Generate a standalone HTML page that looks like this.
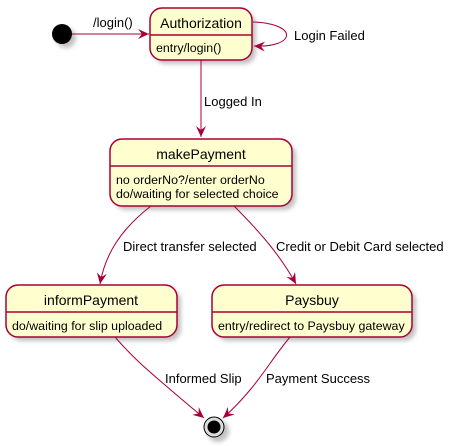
<!DOCTYPE html>
<html><head><meta charset="utf-8"><style>
html,body{margin:0;padding:0;background:#fff;}
svg{display:block;font-family:"Liberation Sans",sans-serif;}
</style></head><body>
<svg width="453" height="446" viewBox="0 0 453 446" xmlns="http://www.w3.org/2000/svg">
<defs>
<filter id="sh" x="-20%" y="-20%" width="150%" height="150%"><feGaussianBlur stdDeviation="2"/></filter>
<marker id="ar" viewBox="0 0 12 10" refX="11" refY="5" markerWidth="12" markerHeight="10" orient="auto" markerUnits="userSpaceOnUse">
<path d="M0,0 L11,5 L0,10 L4,5 Z" fill="#A80036"/></marker>
</defs>
<g fill="#999" opacity="0.6" filter="url(#sh)">
<circle cx="66" cy="38" r="10"/>
<rect x="154" y="12" width="102" height="52" rx="12"/>
<rect x="114" y="143" width="182" height="67" rx="12"/>
<rect x="10" y="289" width="171" height="52" rx="12"/>
<rect x="216" y="289" width="200" height="52" rx="12"/>
<circle cx="218" cy="431" r="11"/>
</g>
<circle cx="62" cy="34" r="10" fill="#000"/>
<g fill="#FEFECE" stroke="#A80036" stroke-width="1.5">
<rect x="150" y="8" width="102" height="52" rx="12"/>
<rect x="110" y="139" width="182" height="67" rx="12"/>
<rect x="6" y="285" width="171" height="52" rx="12"/>
<rect x="212" y="285" width="200" height="52" rx="12"/>
</g>
<g stroke="#A80036" stroke-width="1.5">
<line x1="150" y1="35" x2="252" y2="35"/>
<line x1="110" y1="166" x2="292" y2="166"/>
<line x1="6" y1="312" x2="177" y2="312"/>
<line x1="212" y1="312" x2="412" y2="312"/>
</g>
<circle cx="214" cy="427" r="10" fill="#ddd" stroke="#000" stroke-width="1"/>
<circle cx="214" cy="427" r="6.5" fill="#000"/>
<g fill="none" stroke="#A80036" stroke-width="1">
<path d="M72,34 L149,34" marker-end="url(#ar)"/>
<path d="M253,22 C300,24 295,48 254,46" marker-end="url(#ar)"/>
<path d="M201,60 L201,137" marker-end="url(#ar)"/>
<path d="M151,206 C120,230 105,255 100,284" marker-end="url(#ar)"/>
<path d="M234,206 C260,232 280,255 296,284" marker-end="url(#ar)"/>
<path d="M115,337 C135,360 150,372 165,385 C180,398 192,408 204,418" marker-end="url(#ar)"/>
<path d="M290,337 C275,355 265,372 250,390 C240,402 232,410 223,418" marker-end="url(#ar)"/>
</g>
<g font-size="14" fill="#000">
<text x="201" y="28" text-anchor="middle">Authorization</text>
<text x="201" y="159" text-anchor="middle">makePayment</text>
<text x="91" y="305" text-anchor="middle">informPayment</text>
<text x="312" y="305" text-anchor="middle">Paysbuy</text>
</g>
<g font-size="12.4" fill="#000">
<text x="156" y="52">entry/login()</text>
<text x="116" y="184">no orderNo?/enter orderNo</text>
<text x="116" y="198">do/waiting for selected choice</text>
<text x="12" y="330">do/waiting for slip uploaded</text>
<text x="218" y="330">entry/redirect to Paysbuy gateway</text>
</g>
<g font-size="13" fill="#000">
<text x="93" y="27">/login()</text>
<text x="294" y="40">Login Failed</text>
<text x="204" y="106">Logged In</text>
<text x="123" y="251">Direct transfer selected</text>
<text x="276" y="251">Credit or Debit Card selected</text>
<text x="165" y="383">Informed Slip</text>
<text x="266" y="383">Payment Success</text>
</g>
</svg>
</body></html>
